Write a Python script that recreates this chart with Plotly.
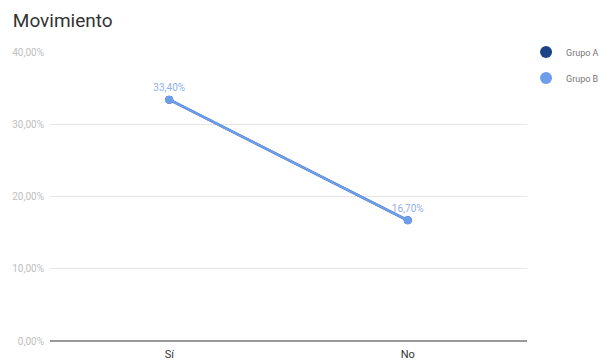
import plotly.graph_objects as go

categories = ["Sí", "No"]
grupo_a = [33.4, 16.7]
grupo_b = [33.4, 16.7]
y_ticks = [0, 10, 20, 30, 40]
y_tick_labels = ["0,00%", "10,00%", "20,00%", "30,00%", "40,00%"]
series_names = ["Grupo A", "Grupo B"]
series_colors = ["#1c4587", "#6d9eeb"]

def fmt(v):
    return f"{v:.2f}".replace(".", ",") + "%"

fig = go.Figure()
fig.add_trace(go.Scatter(
    x=categories, y=grupo_a, name=series_names[0], mode="lines+markers",
    line=dict(color=series_colors[0], width=2.5), marker=dict(size=8, color=series_colors[0]),
    showlegend=False,
))
fig.add_trace(go.Scatter(
    x=categories, y=grupo_b, name=series_names[1], mode="lines+markers+text",
    line=dict(color=series_colors[1], width=2.5), marker=dict(size=8, color=series_colors[1]),
    text=[fmt(v) for v in grupo_b], textposition="top center",
    textfont=dict(size=10, color="#8fb0e8", family="Roboto"),
    showlegend=False,
))
# legend entries (marker-only symbols)
for name, color in zip(series_names, series_colors):
    fig.add_trace(go.Scatter(
        x=[None], y=[None], name=name, mode="markers",
        marker=dict(size=12, color=color), legendgroup=name,
    ))

fig.update_layout(
    width=604, height=355,
    margin=dict(l=42, r=85, t=44, b=22, autoexpand=False),
    paper_bgcolor="white", plot_bgcolor="white",
    title=dict(text="Movimiento", x=0.008, xanchor="left", y=0.966, yanchor="middle",
               font=dict(size=19, color="#333333", family="Roboto")),
    font=dict(family="Roboto"),
    showlegend=True,
    legend=dict(x=0.998, y=1.05, xanchor="left", yanchor="top",
                font=dict(size=9, color="#777777"), itemsizing="constant",
                itemwidth=30, tracegroupgap=7, bgcolor="rgba(0,0,0,0)"),
    xaxis=dict(range=[-0.5, 1.5], showgrid=False, showline=False, zeroline=False,
               tickfont=dict(size=11, color="#333333"), ticks="", ticklabelstandoff=5,
               automargin=False),
    yaxis=dict(range=[0, 40], tickvals=y_ticks, ticktext=y_tick_labels,
               showgrid=True, gridcolor="#e6e6e6", gridwidth=1,
               zeroline=True, zerolinecolor="#999999", zerolinewidth=1.5,
               tickfont=dict(size=10, color="#c0c0c0"), ticks="", ticklabelstandoff=5,
               automargin=False),
)

fig.write_html("out.html")
